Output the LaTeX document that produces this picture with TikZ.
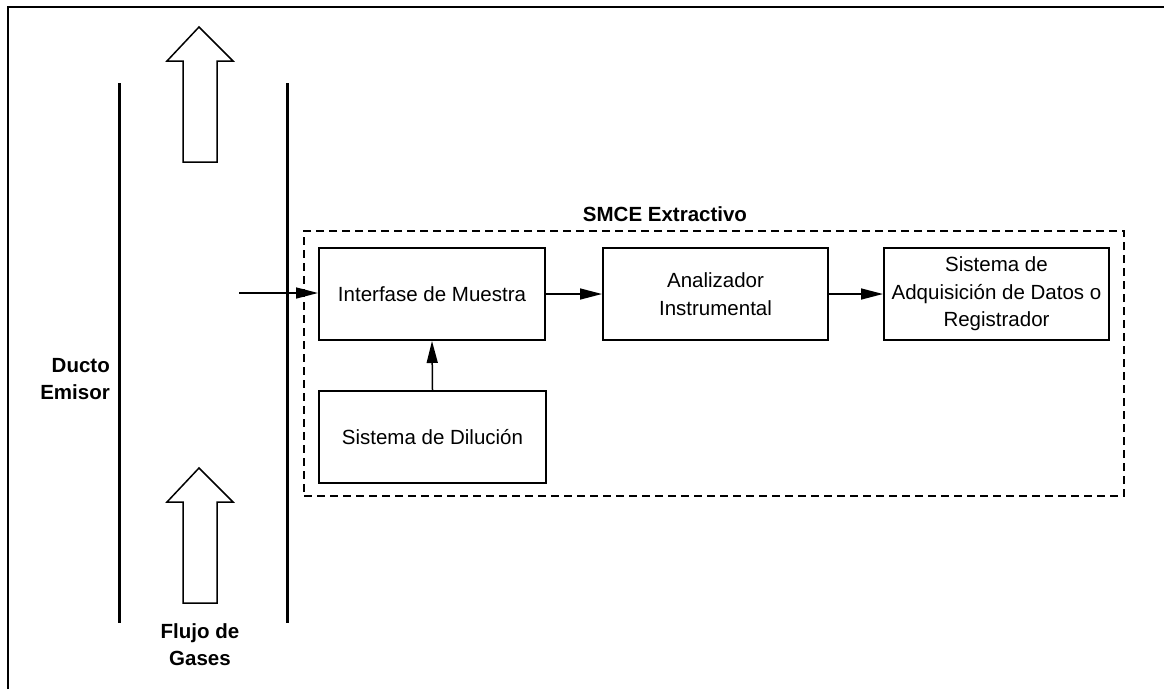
\documentclass[tikz,border=0pt]{standalone}
\usepackage{fontspec}
\setmainfont{Liberation Sans}
\usetikzlibrary{arrows.meta}
\begin{document}
\begin{tikzpicture}[x=1pt,y=-1pt,
  box/.style={draw,line width=2pt,minimum width=226pt,minimum height=92pt,inner sep=0pt,align=center,
    font=\fontsize{20.5}{27.5}\selectfont},
  conn/.style={line width=1.5pt,-{Triangle[length=22pt,width=11pt]}},
  lbl/.style={font=\fontsize{20.5}{27.5}\selectfont\bfseries,inner sep=0pt},
  duct/.style={line width=3pt},
  hollow/.style={draw,line width=1.5pt,line join=miter,fill=white}]
\useasboundingbox (0,0) rectangle (1164,689);
% frame
\draw[line width=2pt] (7.5,689) -- (7.5,6.5) -- (1164,6.5);
% duct walls
\coordinate (dl1) at (119,83); \coordinate (dl2) at (119,623);
\coordinate (dr1) at (287,83); \coordinate (dr2) at (287,623);
\draw[duct] (dl1) -- (dl2);
\draw[duct] (dr1) -- (dr2);
% hollow flow arrows
\draw[hollow] (199,27) -- (233,61) -- (217,61) -- (217,162) -- (183,162) -- (183,61) -- (167,61) -- cycle;
\draw[hollow] (199,468) -- (233,502) -- (217,502) -- (217,603) -- (183,603) -- (183,502) -- (167,502) -- cycle;
% labels
\node[lbl,align=right,anchor=east] (ducto) at (110,379) {Ducto\\Emisor};
\node[lbl,align=center] (flujo) at (200,644.5) {Flujo de\\Gases};
% dashed SMCE box
\node[draw,dashed,line width=2.5pt,dash pattern=on 8pt off 5pt,minimum width=820pt,minimum height=265pt,inner sep=0pt] (smce) at (714,363.5) {};
\node[lbl] (smcelbl) at (665,214) {SMCE Extractivo};
% blocks
\node[box] (iface) at (432,294) {Interfase de Muestra};
\node[box,minimum width=225pt] (anal) at (715.5,294) {Analizador\\Instrumental};
\node[box,minimum width=225pt] (daq) at (996.5,294) {Sistema de\\Adquisición de Datos o\\Registrador};
\node[box,minimum width=227pt] (dil) at (432.5,437) {Sistema de Dilución};
% connectors
\coordinate (in) at (239,293);
\draw[conn] (in) -- (iface.west |- in);
\draw[conn] (iface.east) -- (anal.west);
\draw[conn] (anal.east) -- (daq.west);
\draw[conn] (dil.north) -- (iface.south);
\end{tikzpicture}
\end{document}
